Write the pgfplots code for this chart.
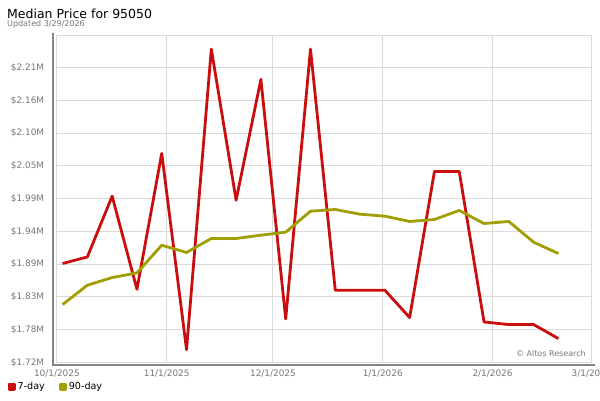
\documentclass[border=0pt]{standalone}
\usepackage{fontspec}
\setmainfont{DejaVu Sans}
\usepackage{pgfplots}
\pgfplotsset{compat=1.18}
\definecolor{redline}{RGB}{200,14,14}
\definecolor{oliveline}{RGB}{160,158,0}
\definecolor{gridc}{RGB}{218,218,218}
\definecolor{tickc}{RGB}{118,118,118}
\definecolor{barc}{RGB}{133,133,133}
\begin{document}
\begin{tikzpicture}
\path[use as bounding box] (-56.9pt,-37.7pt) rectangle (543.1pt,362.3pt);
\begin{axis}[
  at={(0pt,0pt)}, anchor=south west, name=ax,
  scale only axis, width=534.8pt, height=327.3pt,
  xmin=0, xmax=151, ymin=1.722, ymax=2.2665,
  axis line style={draw=gridc, line width=0.8pt},
  grid=major, grid style={draw=gridc, line width=0.9pt},
  major tick length=0pt,
  xtick={0,31,61,92,123,151},
  xticklabels={10/1/2025,11/1/2025,12/1/2025,1/1/2026,2/1/2026,3/1/2026},
  ytick={1.722,1.776444,1.830889,1.885333,1.939778,1.994222,2.048667,2.103111,2.157556,2.212,2.266444},
  yticklabels={\$1.72M,\$1.78M,\$1.83M,\$1.89M,\$1.94M,\$1.99M,\$2.05M,\$2.10M,\$2.16M,\$2.21M,},
  ticklabel style={font=\fontsize{8.9}{10}\selectfont, text=tickc, inner sep=0pt},
  xticklabel style={anchor=north, yshift=-7pt},
  yticklabel style={anchor=east, xshift=-12.6pt},
  legend columns=2,
  legend style={at={(axis description cs:0,0)}, anchor=west, xshift=-49.5pt, yshift=-24.2pt,
    draw=none, fill=none, inner sep=0pt, font=\fontsize{9.6}{11}\selectfont,
    /tikz/every even column/.append style={column sep=12pt}},
  legend image code/.code={\fill[#1] (0pt,-2.6pt) rectangle (5.2pt,2.6pt);},
  clip=false,
]
\addplot[redline, line width=2.8pt, line join=round] coordinates {
(1.6,1.8863) (8.6,1.8973) (15.6,1.9984) (22.6,1.8435) (29.6,2.0695) (36.6,1.7431)
(43.6,2.2431) (50.6,1.9917) (57.6,2.1927) (64.6,1.7941) (71.6,2.2431) (78.6,1.8419)
(85.6,1.8419) (92.6,1.8419) (99.6,1.7964) (106.6,2.0395) (113.6,2.0395) (120.6,1.7891)
(127.6,1.7848) (134.6,1.7848) (141.6,1.7615)};
\addlegendentry{7-day}
\addplot[oliveline, line width=2.8pt, line join=round] coordinates {
(1.6,1.8181) (8.6,1.8502) (15.6,1.8630) (22.6,1.8707) (29.6,1.9168) (36.6,1.9047)
(43.6,1.9280) (50.6,1.9280) (57.6,1.9335) (64.6,1.9385) (71.6,1.9734) (78.6,1.9762)
(85.6,1.9684) (92.6,1.9651) (99.6,1.9563) (106.6,1.9596) (113.6,1.9746) (120.6,1.9529)
(127.6,1.9563) (134.6,1.9218) (141.6,1.9030)};
\addlegendentry{90-day}
\draw[barc, line width=2.6pt] ([xshift=-4pt,yshift=2pt]rel axis cs:0,1) -- ([xshift=-4pt,yshift=-2.7pt]rel axis cs:0,0) -- ([xshift=3pt,yshift=-2.7pt]rel axis cs:1,0);
\node[anchor=base east, inner sep=0pt, text=tickc, font=\fontsize{8}{9}\selectfont] at ([xshift=-5.7pt,yshift=5.6pt]rel axis cs:1,0) {© Altos Research};
\end{axis}
\node[anchor=base west, inner sep=0pt, font=\fontsize{12.5}{14}\selectfont] at (-49.9pt,343.3pt) {Median Price for 95050};
\node[anchor=base west, inner sep=0pt, text=tickc, font=\fontsize{8}{9}\selectfont] at (-49.9pt,335.6pt) {Updated 3/29/2026};
\end{tikzpicture}
\end{document}
